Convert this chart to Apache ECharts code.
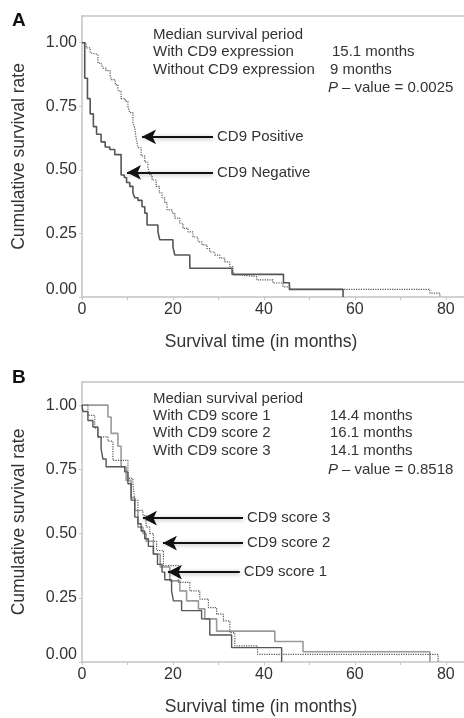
<!DOCTYPE html>
<html lang="en">
<head>
    <meta charset="UTF-8">
    <title>CD9 survival</title>
    <script src="https://cdn.jsdelivr.net/npm/echarts@6/dist/echarts.min.js"></script>
    <style>
        body { margin: 0; background: #fff; }
        #main { width: 464px; height: 718px; }
    </style>
</head>
<body>
<div id="main"></div>
<script>
    // panel A: CD9 negative (solid) / positive (dotted), months vs survival
    var negTime = [0, 0.6, 1.2, 1.8, 2.5, 3.2, 4.2, 5.1, 6.1, 7.2, 8.6, 9.3, 9.8, 10.5, 11.2, 11.6, 12.3, 13.2, 13.8, 14.3, 16.7, 17.1, 20, 20.4, 23.7, 33, 44.3, 45.6, 57.4];
    var negSurv = [1, 0.86, 0.78, 0.72, 0.67, 0.64, 0.61, 0.59, 0.58, 0.56, 0.48, 0.47, 0.45, 0.435, 0.41, 0.39, 0.38, 0.355, 0.33, 0.283, 0.256, 0.225, 0.197, 0.165, 0.113, 0.089, 0.056, 0.03, 0];
    var posTime = [0, 0.9, 1.8, 2.0, 3.5, 4.2, 4.6, 5.3, 6.2, 6.4, 7.3, 7.9, 8.6, 9.5, 10.1, 10.5, 11.2, 11.6, 11.9, 12.3, 13, 13.8, 14.5, 14.9, 15.4, 16.3, 17, 17.6, 18.2, 18.7, 19.8, 20.4, 21.5, 22.2, 23.3, 24.4, 25.5, 26.4, 27.5, 28.1, 29.2, 30.3, 31.4, 32.5, 33.2, 33.6, 34.7, 38.4, 42, 44.2, 45.7, 76.5, 78.7];
    var posSurv = [1, 0.98, 0.96, 0.954, 0.92, 0.915, 0.9, 0.89, 0.87, 0.855, 0.835, 0.81, 0.78, 0.77, 0.75, 0.725, 0.685, 0.665, 0.625, 0.587, 0.555, 0.53, 0.51, 0.48, 0.46, 0.435, 0.41, 0.39, 0.37, 0.343, 0.33, 0.31, 0.29, 0.27, 0.256, 0.236, 0.217, 0.205, 0.19, 0.177, 0.165, 0.153, 0.138, 0.12, 0.1, 0.087, 0.08, 0.067, 0.055, 0.04, 0.03, 0.015, 0];

    // panel B: CD9 score 1 / 2 / 3
    var s1Time = [0, 0.2, 1.3, 2.4, 3.5, 4.2, 4.6, 5.3, 9.4, 10.1, 10.8, 11.6, 12.3, 13, 13.8, 14.6, 15.7, 16.6, 17.6, 18.2, 19.7, 20.1, 21.9, 26.3, 28.1, 32.9, 43.9];
    var s1Surv = [1, 0.975, 0.94, 0.915, 0.876, 0.83, 0.79, 0.76, 0.74, 0.694, 0.63, 0.564, 0.538, 0.51, 0.48, 0.45, 0.42, 0.38, 0.35, 0.32, 0.277, 0.238, 0.2, 0.168, 0.105, 0.056, 0];
    var s2Time = [0, 1.3, 2.8, 3.5, 5.7, 6.8, 10.1, 11.2, 11.6, 12.3, 13.4, 14.1, 14.9, 15.7, 16.4, 17.9, 21.2, 23.7, 25.9, 27.8, 29.6, 31.1, 32.5, 33.6, 38.6, 78.3];
    var s2Surv = [1, 0.96, 0.91, 0.876, 0.86, 0.785, 0.715, 0.69, 0.63, 0.59, 0.57, 0.525, 0.5, 0.47, 0.434, 0.375, 0.31, 0.277, 0.245, 0.212, 0.186, 0.16, 0.114, 0.0625, 0.03, 0];
    var s3Time = [0, 5.7, 6.4, 7.9, 8.6, 9.7, 10.8, 11.6, 12.3, 13.4, 14.1, 15.7, 17.2, 19.3, 21.5, 23, 25.6, 27, 29.6, 42.4, 48.6, 76.5];
    var s3Surv = [1, 0.954, 0.89, 0.84, 0.76, 0.707, 0.64, 0.59, 0.525, 0.5, 0.47, 0.42, 0.37, 0.316, 0.277, 0.238, 0.207, 0.168, 0.12, 0.08, 0.04, 0];

    var yTicks = [0, 0.25, 0.5, 0.75, 1];
    var xTicks = [0, 20, 40, 60, 80];
    var xMinor = [0, 10, 20, 30, 40, 50, 60, 70, 80];

    function zip(t, s) {
        var out = [];
        for (var i = 0; i < t.length; i++) out.push([t[i], s[i]]);
        return out;
    }

    var font = '"Liberation Sans", Arial, sans-serif';
    var axisGray = '#c4c4c4';
    var textCol = '#333';

    function bottomAxis(grid) {
        return {
            type: 'value', gridIndex: grid, min: 0, max: 84, position: 'bottom',
            name: 'Survival time (in months)', nameLocation: 'middle', nameGap: 36,
            nameTextStyle: { fontSize: 17.5, color: textCol, fontFamily: font, padding: [0, 24, 0, 0] },
            axisLine: { lineStyle: { color: axisGray, width: 1.5 } },
            axisTick: { customValues: xMinor, length: 3, lineStyle: { color: axisGray } },
            axisLabel: { customValues: xTicks, fontSize: 16, color: textCol, fontFamily: font, margin: 5 },
            splitLine: { show: false }
        };
    }
    function topAxis(grid) {
        return {
            type: 'value', gridIndex: grid, min: 0, max: 84, position: 'top',
            axisLine: { lineStyle: { color: axisGray, width: 1.5 } },
            axisTick: { show: false }, axisLabel: { show: false }, splitLine: { show: false }
        };
    }
    function leftAxis(grid, max) {
        return {
            type: 'value', gridIndex: grid, min: 0, max: max,
            name: 'Cumulative survival rate', nameLocation: 'middle', nameGap: 54,
            nameTextStyle: { fontSize: 17.5, color: textCol, fontFamily: font },
            axisLine: { show: true, lineStyle: { color: axisGray, width: 1.5 } },
            axisTick: { show: true, customValues: yTicks, length: 3, lineStyle: { color: axisGray } },
            axisLabel: {
                customValues: yTicks, fontSize: 16, color: textCol, fontFamily: font, margin: 5,
                formatter: function (v) { return v === 0 ? '{z|0.00}' : v.toFixed(2); },
                rich: { z: { fontSize: 16, color: textCol, fontFamily: font, padding: [0, 0, 14, 0] } }
            },
            splitLine: { show: false }
        };
    }

    function arrow(tail, head, text) {
        return [
            { coord: tail, label: { show: true, position: 'start', formatter: text, distance: 4,
                fontSize: 15, color: textCol, fontFamily: font } },
            { coord: head }
        ];
    }
    function arrows(list) {
        return {
            silent: true, symbol: ['none', 'arrow'], symbolSize: [11, 14],
            lineStyle: { color: '#111', width: 2, type: 'solid', shadowColor: 'rgba(0,0,0,0.35)', shadowBlur: 4, shadowOffsetY: 1 },
            label: { show: true },
            data: list
        };
    }

    function km(name, xi, yi, data, color, width, type, mark) {
        var s = {
            name: name, type: 'line', step: 'end', xAxisIndex: xi, yAxisIndex: yi,
            data: data, showSymbol: false, symbol: 'none',
            lineStyle: { color: color, width: width, type: type }
        };
        if (mark) s.markLine = mark;
        return s;
    }

    function txt(x, y, s, extra) {
        var st = { text: s, x: x, y: y, fill: textCol, font: '15px ' + font, verticalAlign: 'middle' };
        if (extra) st.font = extra + ' ' + st.font;
        return { type: 'text', style: st };
    }

    var chart = echarts.init(document.getElementById('main'));
    chart.setOption({
        animation: false,
        backgroundColor: '#fff',
        grid: [
            { left: 82, top: 16, right: 0, height: 281 },
            { left: 82, top: 382, right: 0, height: 280 }
        ],
        xAxis: [bottomAxis(0), topAxis(0), bottomAxis(1), topAxis(1)],
        yAxis: [leftAxis(0, 1.105), leftAxis(1, 1.09)],
        series: [
            km('CD9 Negative', 0, 0, zip(negTime, negSurv), '#555', 1.6, 'solid',
                arrows([arrow([28.8, 0.49], [9.9, 0.49], 'CD9 Negative'),
                        arrow([28.8, 0.63], [13.2, 0.63], 'CD9 Positive')])),
            km('CD9 Positive', 0, 0, zip(posTime, posSurv), '#555', 1.2, 'dotted'),
            km('CD9 score 3', 2, 1, zip(s3Time, s3Surv), '#9a9a9a', 1.6, 'solid',
                arrows([arrow([35.4, 0.56], [13.4, 0.56], 'CD9 score 3'),
                        arrow([35.4, 0.463], [17.8, 0.463], 'CD9 score 2'),
                        arrow([34.7, 0.35], [18.9, 0.35], 'CD9 score 1')])),
            km('CD9 score 1', 2, 1, zip(s1Time, s1Surv), '#555', 1.4, 'solid'),
            km('CD9 score 2', 2, 1, zip(s2Time, s2Surv), '#555', 1.2, 'dotted')
        ],
        graphic: [
            { type: 'text', style: { text: 'A', x: 12, y: 21, fill: '#111', font: 'bold 19px ' + font, verticalAlign: 'middle' } },
            { type: 'text', style: { text: 'B', x: 12, y: 378, fill: '#111', font: 'bold 19px ' + font, verticalAlign: 'middle' } },
            txt(153, 35, 'Median survival period'),
            txt(153, 52, 'With CD9 expression'),
            txt(153, 70, 'Without CD9 expression'),
            txt(332, 52, '15.1 months'),
            txt(330, 70, '9 months'),
            txt(328, 88, 'P', 'italic'),
            txt(342, 88, '\u2013 value = 0.0025'),
            txt(153, 399, 'Median survival period'),
            txt(153, 416, 'With CD9 score 1'),
            txt(153, 433, 'With CD9 score 2'),
            txt(153, 451, 'With CD9 score 3'),
            txt(330, 416, '14.4 months'),
            txt(330, 433, '16.1 months'),
            txt(330, 451, '14.1 months'),
            txt(328, 470, 'P', 'italic'),
            txt(342, 470, '\u2013 value = 0.8518')
        ]
    });
</script>
</body>
</html>
